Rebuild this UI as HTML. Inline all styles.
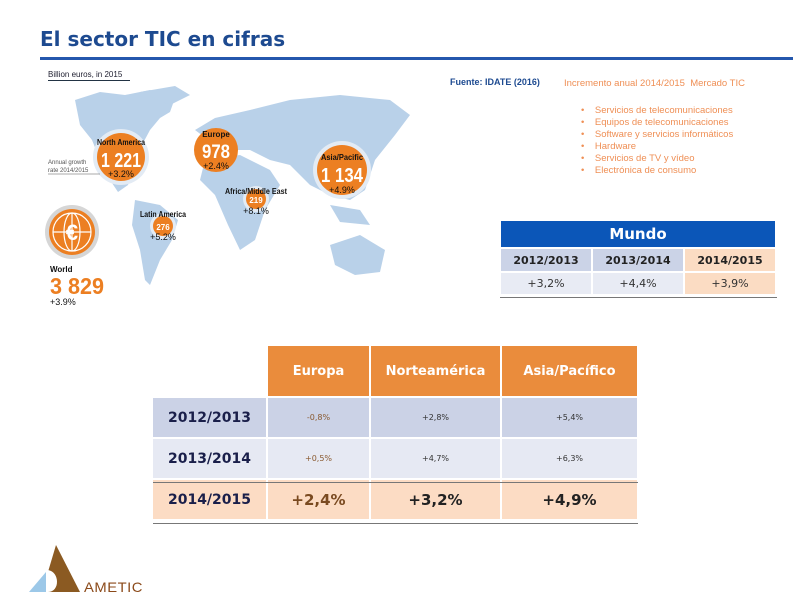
<!DOCTYPE html><html><head><meta charset="utf-8"><style>
body{margin:0;width:793px;height:600px;background:#fff;position:relative;overflow:hidden;font-family:"Liberation Sans","DejaVu Sans",sans-serif}
.a{position:absolute}
table{border-collapse:separate;border-spacing:2px;position:absolute}
td{text-align:center;padding:0}
</style></head><body>
<div class="a" style="left:40px;top:27px;font-size:20px;font-weight:bold;color:#1d4a90;font-family:'DejaVu Sans',sans-serif">El sector TIC en cifras</div>
<div class="a" style="left:40px;top:57px;width:753px;height:3px;background:#2457ad"></div>
<div class="a" style="left:48px;top:70px;font-size:8px;color:#223">Billion euros, in 2015</div>
<div class="a" style="left:48px;top:80px;width:82px;height:1px;background:#234"></div>
<svg class="a" style="left:0;top:0" width="793" height="600">
<g fill="#b9d1e9">
<path d="M75,100 L100,92 L125,95 L150,90 L175,98 L170,112 L160,118 L150,130 L142,145 L135,165 L128,185 L118,192 L110,180 L100,160 L92,140 L80,125 Z"/>
<path d="M140,92 L175,86 L190,95 L170,105 Z"/>
<path d="M135,200 L160,205 L178,220 L172,240 L160,260 L150,285 L145,280 L140,250 L132,225 Z"/>
<path d="M195,130 L215,118 L250,110 L290,100 L340,95 L390,100 L410,115 L395,135 L375,160 L365,190 L350,200 L330,195 L310,185 L290,165 L270,160 L250,150 L230,150 L215,145 Z"/>
<path d="M205,160 L240,155 L270,170 L280,185 L265,210 L255,240 L240,250 L228,225 L215,195 L200,180 Z"/>
<path d="M330,245 L360,235 L385,250 L380,272 L355,275 L335,265 Z"/>
<path d="M330,205 L360,210 L370,225 L340,222 Z"/>
</g>
<circle cx="121" cy="157" r="28" fill="#e3ebf4"/><circle cx="121" cy="157" r="24" fill="#ec7f22"/>
<circle cx="216" cy="150" r="22" fill="#ec7f22"/>
<circle cx="342" cy="170" r="29" fill="#e3ebf4"/><circle cx="342" cy="170" r="25" fill="#ec7f22"/>
<circle cx="256" cy="199" r="13" fill="#e3ebf4"/><circle cx="256" cy="199" r="10" fill="#ec7f22"/>
<circle cx="163" cy="226" r="13" fill="#e3ebf4"/><circle cx="163" cy="226" r="10" fill="#ec7f22"/>
<circle cx="72" cy="232" r="27" fill="#d6d6d6"/><circle cx="72" cy="232" r="23" fill="#ec7f22"/>
<g stroke="#fff" stroke-width="1.2" fill="none"><circle cx="72" cy="232" r="19"/><ellipse cx="72" cy="232" rx="8" ry="19"/><line x1="53" y1="232" x2="91" y2="232"/><line x1="72" y1="213" x2="72" y2="251"/></g>
<text x="72" y="240" text-anchor="middle" font-size="22" font-weight="bold" fill="#fff">€</text>
<g font-family="Liberation Sans" font-weight="bold" text-anchor="middle">
<text x="121" y="145" font-size="8" fill="#111" textLength="48" lengthAdjust="spacingAndGlyphs">North America</text>
<text x="121" y="167" font-size="20" fill="#fff" textLength="40" lengthAdjust="spacingAndGlyphs">1 221</text>
<text x="121" y="177" font-size="9" font-weight="normal" fill="#111">+3.2%</text>
<text x="216" y="137" font-size="8" fill="#111">Europe</text>
<text x="216" y="158" font-size="19" fill="#fff" textLength="28" lengthAdjust="spacingAndGlyphs">978</text>
<text x="216" y="169" font-size="9" font-weight="normal" fill="#111">+2.4%</text>
<text x="342" y="160" font-size="8" fill="#111" textLength="42" lengthAdjust="spacingAndGlyphs">Asia/Pacific</text>
<text x="342" y="182" font-size="20" fill="#fff" textLength="42" lengthAdjust="spacingAndGlyphs">1 134</text>
<text x="342" y="193" font-size="9" font-weight="normal" fill="#111">+4.9%</text>
<text x="256" y="194" font-size="8" fill="#111" textLength="62" lengthAdjust="spacingAndGlyphs">Africa/Middle East</text>
<text x="256" y="203" font-size="8" fill="#fff">219</text>
<text x="256" y="214" font-size="9" font-weight="normal" fill="#111">+8.1%</text>
<text x="163" y="217" font-size="8" fill="#111" textLength="46" lengthAdjust="spacingAndGlyphs">Latin America</text>
<text x="163" y="230" font-size="8" fill="#fff">276</text>
<text x="163" y="240" font-size="9" font-weight="normal" fill="#111">+5.2%</text>
</g>
<text x="48" y="164" font-size="6" fill="#555">Annual growth</text>
<text x="48" y="172" font-size="6" fill="#555">rate 2014/2015</text>
<line x1="48" y1="174" x2="100" y2="174" stroke="#555" stroke-width="0.6"/>
<text x="50" y="272" font-size="8" font-weight="bold" fill="#111">World</text>
<text x="50" y="294" font-size="23" font-weight="bold" fill="#ec7f22" textLength="54" lengthAdjust="spacingAndGlyphs">3 829</text>
<text x="50" y="305" font-size="9" fill="#111">+3.9%</text>
<polygon points="56,545 80,592 42,592" fill="#8b5a22"/>
<path d="M38,570 L48,570 C60,572 60,592 48,592 L38,592 Z" fill="#fff"/>
<polygon points="46,572 46,592 29,592" fill="#9cc8e8"/>
<path d="M48,574 C56,576 56,590 48,590" fill="none" stroke="#8b5a22" stroke-width="0"/>
<text x="84" y="592" font-size="14" fill="#8b4a1a" letter-spacing="0.5" textLength="59" lengthAdjust="spacingAndGlyphs">AMETIC</text>
</svg>
<div class="a" style="left:450px;top:77px;font-size:9px;font-weight:bold;color:#1d4a90">Fuente: IDATE (2016)</div>
<div class="a" style="left:564px;top:78px;font-size:9.5px;color:#ef8f55">Incremento anual 2014/2015&nbsp; Mercado TIC</div>
<div class="a" style="left:581px;top:105px;font-size:9.5px;color:#ef8f55;line-height:12px">
•&nbsp;&nbsp;&nbsp; Servicios de telecomunicaciones<br>•&nbsp;&nbsp;&nbsp; Equipos de telecomunicaciones<br>•&nbsp;&nbsp;&nbsp; Software y servicios informáticos<br>•&nbsp;&nbsp;&nbsp; Hardware<br>•&nbsp;&nbsp;&nbsp; Servicios de TV y vídeo<br>•&nbsp;&nbsp;&nbsp; Electrónica de consumo</div>
<table style="left:499px;top:219px;width:278px;font-family:'DejaVu Sans',sans-serif">
<tr><td colspan="3" style="background:#0b56b8;color:#fff;font-weight:bold;font-size:15px;height:26px">Mundo</td></tr>
<tr style="font-size:11px;font-weight:bold;color:#222;height:22px"><td style="background:#cbd3e7">2012/2013</td><td style="background:#cbd3e7">2013/2014</td><td style="background:#fbdcc3">2014/2015</td></tr>
<tr style="font-size:11px;color:#333;height:21px"><td style="background:#e8ebf4">+3,2%</td><td style="background:#e8ebf4">+4,4%</td><td style="background:#fbdcc3">+3,9%</td></tr>
</table>
<div class="a" style="left:500px;top:297px;width:277px;height:1px;background:#777"></div>
<table style="left:151px;top:344px;font-family:'DejaVu Sans',sans-serif">
<tr style="height:50px"><td style="width:113px"></td><td style="width:101px;background:#ea8c3c;color:#fff;font-weight:bold;font-size:13px">Europa</td><td style="width:129px;background:#ea8c3c;color:#fff;font-weight:bold;font-size:13px">Norteamérica</td><td style="width:135px;background:#ea8c3c;color:#fff;font-weight:bold;font-size:13px">Asia/Pacífico</td></tr>
<tr style="height:39px;background:#cbd2e6;font-size:8px;color:#333"><td style="font-size:14px;font-weight:bold;color:#1a1f4a">2012/2013</td><td style="color:#8a5a30">-0,8%</td><td>+2,8%</td><td>+5,4%</td></tr>
<tr style="height:39px;background:#e6e9f3;font-size:8px;color:#333"><td style="font-size:14px;font-weight:bold;color:#1a1f4a">2013/2014</td><td style="color:#8a5a30">+0,5%</td><td>+4,7%</td><td>+6,3%</td></tr>
<tr style="height:39px;background:#fcdcc4;font-size:15px;font-weight:bold;color:#222"><td style="font-size:14px;font-weight:bold;color:#1a1f4a">2014/2015</td><td style="color:#7a4a20">+2,4%</td><td>+3,2%</td><td>+4,9%</td></tr>
</table>
<div class="a" style="left:153px;top:482px;width:485px;height:1px;background:#777"></div>
<div class="a" style="left:153px;top:523px;width:485px;height:1px;background:#777"></div>
</body></html>
